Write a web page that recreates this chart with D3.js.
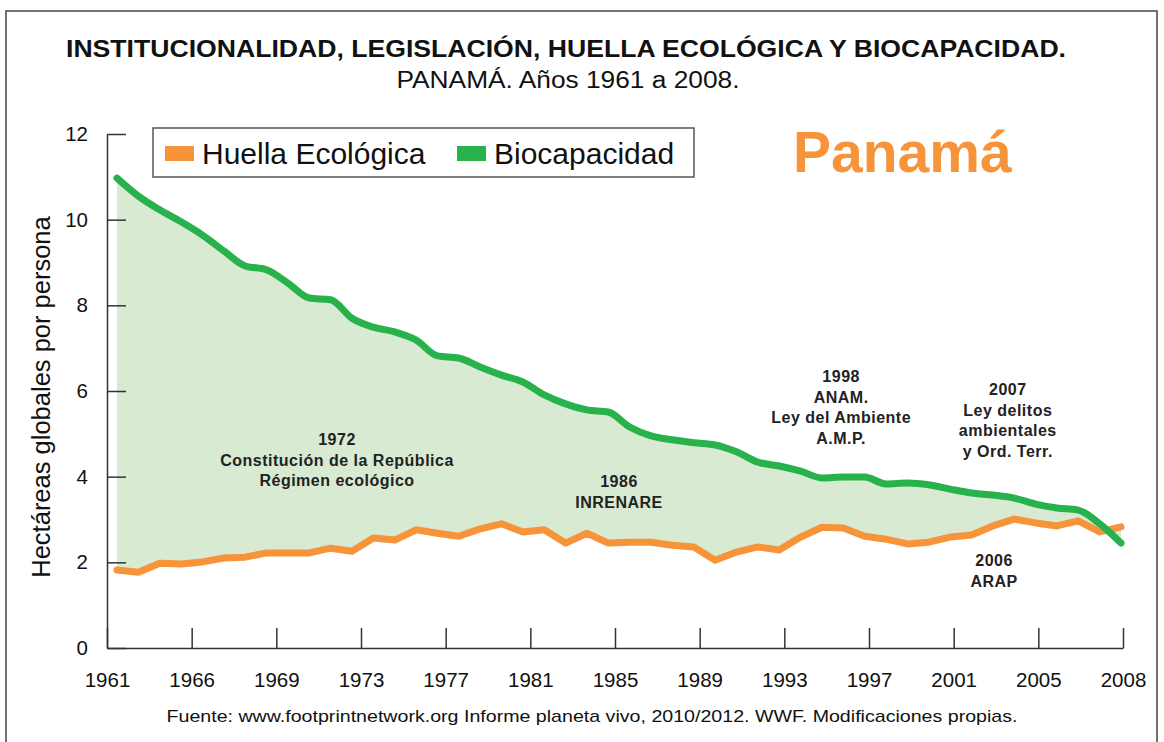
<!DOCTYPE html>
<html><head><meta charset="utf-8">
<script src="https://cdn.jsdelivr.net/npm/d3@7"></script>
<style>
body{margin:0;background:#fff;}
svg{display:block;font-family:"Liberation Sans",Arial,Helvetica,sans-serif;}
</style></head>
<body>
<svg id="chart" width="1164" height="742"></svg>
<script>
const years = d3.range(1961, 2009);
const huella = [1.82,1.77,1.98,1.96,2.01,2.10,2.12,2.22,2.22,2.22,2.33,2.26,2.57,2.52,2.76,2.68,2.61,2.78,2.90,2.71,2.76,2.45,2.68,2.45,2.47,2.47,2.40,2.36,2.05,2.24,2.36,2.29,2.59,2.82,2.80,2.61,2.54,2.43,2.47,2.59,2.64,2.85,3.01,2.92,2.85,2.97,2.71,2.83];
const biocap = [10.97,10.55,10.23,9.95,9.64,9.27,8.92,8.83,8.52,8.17,8.13,7.70,7.49,7.38,7.19,6.82,6.77,6.56,6.37,6.21,5.91,5.70,5.56,5.51,5.16,4.95,4.86,4.79,4.74,4.58,4.34,4.25,4.13,3.97,3.99,3.99,3.83,3.85,3.81,3.71,3.62,3.57,3.50,3.36,3.27,3.22,2.90,2.45];
const xTickLabels = ["1961","1966","1969","1973","1977","1981","1985","1989","1993","1997","2001","2005","2008"];
const yTickValues = [0,2,4,6,8,10,12];
const seriesNames = ["Huella Ecológica","Biocapacidad"];
const seriesColors = ["#f7943a","#27b24b"];
const annotations = [
  {x:1971.3, y:4.74, lines:["1972","Constitución de la República","Régimen ecológico"]},
  {x:1984.5, y:3.76, lines:["1986","INRENARE"]},
  {x:1994.9, y:6.21, lines:["1998","ANAM.","Ley del Ambiente","A.M.P."]},
  {x:2002.7, y:5.91, lines:["2007","Ley delitos","ambientales","y Ord. Terr."]},
  {x:2002.06, y:1.91, lines:["2006","ARAP"]}
];

const svg = d3.select("#chart");
// outer frame
svg.append("rect").attr("x",6).attr("y",11).attr("width",1151).attr("height",760)
  .attr("fill","none").attr("stroke","#444").attr("stroke-width",1.5);

const y = d3.scaleLinear().domain([0,12]).range([648,134]);
const x = d3.scaleLinear().domain([1961,2008]).range([117,1121]);
const xTick = d3.scalePoint().domain(xTickLabels).range([107,1123]);

const data = years.map((yr,i)=>({yr, h:huella[i], b:biocap[i]}));
// fill between
svg.append("path").datum(data)
  .attr("d", d3.area().curve(d3.curveMonotoneX).x(d=>x(d.yr)).y0(d=>y(d.h)).y1(d=>y(d.b)))
  .attr("fill","#d8ead1");

// axes
const ya = svg.append("g").attr("transform","translate(107,0)")
  .call(d3.axisLeft(y).tickValues(yTickValues).tickSize(-19).tickSizeOuter(0).tickPadding(19));
const xa = svg.append("g").attr("transform","translate(0,648)")
  .call(d3.axisBottom(xTick).tickSize(-20).tickSizeOuter(0).tickPadding(24));
[ya,xa].forEach(g=>{
  g.selectAll("path,line").attr("stroke","#333").attr("stroke-width",1.5);
  g.selectAll("text").attr("fill","#111").style("font-size","20.5px")
   .style("font-family",'"Liberation Sans",Arial,sans-serif');
});

// lines
svg.append("path").datum(data)
  .attr("d", d3.line().x(d=>x(d.yr)).y(d=>y(d.h)))
  .attr("fill","none").attr("stroke",seriesColors[0]).attr("stroke-width",7)
  .attr("stroke-linejoin","round").attr("stroke-linecap","round");
svg.append("path").datum(data)
  .attr("d", d3.line().curve(d3.curveMonotoneX).x(d=>x(d.yr)).y(d=>y(d.b)))
  .attr("fill","none").attr("stroke",seriesColors[1]).attr("stroke-width",7)
  .attr("stroke-linejoin","round").attr("stroke-linecap","round");

// titles
svg.append("text").attr("x",566).attr("y",57).attr("text-anchor","middle")
  .attr("font-weight","bold").attr("font-size",24).attr("fill","#111")
  .attr("textLength",1000).attr("lengthAdjust","spacingAndGlyphs")
  .text("INSTITUCIONALIDAD, LEGISLACIÓN, HUELLA ECOLÓGICA Y BIOCAPACIDAD.");
svg.append("text").attr("x",568).attr("y",88).attr("text-anchor","middle")
  .attr("font-size",23).attr("fill","#111")
  .attr("textLength",343).attr("lengthAdjust","spacingAndGlyphs")
  .text("PANAMÁ. Años 1961 a 2008.");

// y label
svg.append("text").attr("transform","translate(50,397) rotate(-90)")
  .attr("text-anchor","middle").attr("font-size",25.5).attr("fill","#111")
  .text("Hectáreas globales por persona");

// legend
svg.append("rect").attr("x",153).attr("y",128).attr("width",541).attr("height",49)
  .attr("fill","#fff").attr("stroke","#555").attr("stroke-width",1.5);
const legX = [165, 457];
seriesNames.forEach((n,i)=>{
  svg.append("rect").attr("x",legX[i]).attr("y",146).attr("width",29).attr("height",15)
    .attr("fill",seriesColors[i]);
  svg.append("text").attr("x",legX[i]+37).attr("y",164).attr("font-size",30)
    .attr("fill","#111").text(n);
});

// Panamá
svg.append("text").attr("x",793).attr("y",172).attr("font-size",57).attr("font-weight","bold")
  .attr("fill","#f7943a").text("Panamá");

// annotations
annotations.forEach(a=>{
  const t = svg.append("text").attr("text-anchor","middle").attr("font-weight","bold")
    .attr("font-size",16).attr("letter-spacing","0.5px").attr("fill","#222");
  a.lines.forEach((l,i)=>{
    t.append("tspan").attr("x",x(a.x)).attr("y",y(a.y)+i*20.7).text(l);
  });
});

// footer
svg.append("text").attr("x",592).attr("y",722).attr("text-anchor","middle")
  .attr("font-size",17).attr("fill","#111")
  .attr("textLength",851).attr("lengthAdjust","spacingAndGlyphs")
  .text("Fuente:  www.footprintnetwork.org Informe planeta vivo, 2010/2012. WWF. Modificaciones propias.");
</script>
</body></html>
